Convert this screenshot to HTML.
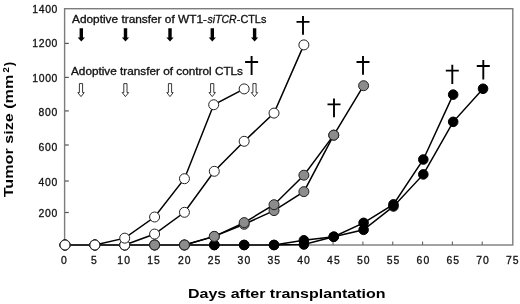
<!DOCTYPE html><html><head><meta charset="utf-8"><style>html,body{margin:0;padding:0;background:#fff;width:520px;height:304px;overflow:hidden}svg{display:block;will-change:transform}text{font-family:"Liberation Sans",sans-serif}.t{stroke:#111;stroke-width:0.3px}</style></head><body>
<svg width="520" height="304" viewBox="0 0 520 304">
<rect x="64.6" y="8.7" width="448.2" height="236.3" fill="none" stroke="#7c7c7c" stroke-width="1.4"/>
<line x1="65" y1="43.4" x2="68.8" y2="43.4" stroke="#555" stroke-width="1.2"/>
<line x1="65" y1="77.4" x2="68.8" y2="77.4" stroke="#555" stroke-width="1.2"/>
<line x1="65" y1="110.9" x2="68.8" y2="110.9" stroke="#555" stroke-width="1.2"/>
<line x1="65" y1="145" x2="68.8" y2="145" stroke="#555" stroke-width="1.2"/>
<line x1="65" y1="181" x2="68.8" y2="181" stroke="#555" stroke-width="1.2"/>
<line x1="65" y1="212.5" x2="68.8" y2="212.5" stroke="#555" stroke-width="1.2"/>
<line x1="94.43" y1="245" x2="94.43" y2="241.6" stroke="#666" stroke-width="1.1"/>
<line x1="124.26" y1="245" x2="124.26" y2="241.6" stroke="#666" stroke-width="1.1"/>
<line x1="154.09" y1="245" x2="154.09" y2="241.6" stroke="#666" stroke-width="1.1"/>
<line x1="183.92" y1="245" x2="183.92" y2="241.6" stroke="#666" stroke-width="1.1"/>
<line x1="213.75" y1="245" x2="213.75" y2="241.6" stroke="#666" stroke-width="1.1"/>
<line x1="243.58" y1="245" x2="243.58" y2="241.6" stroke="#666" stroke-width="1.1"/>
<line x1="273.41" y1="245" x2="273.41" y2="241.6" stroke="#666" stroke-width="1.1"/>
<line x1="303.24" y1="245" x2="303.24" y2="241.6" stroke="#666" stroke-width="1.1"/>
<line x1="333.07" y1="245" x2="333.07" y2="241.6" stroke="#666" stroke-width="1.1"/>
<line x1="362.90" y1="245" x2="362.90" y2="241.6" stroke="#666" stroke-width="1.1"/>
<line x1="392.73" y1="245" x2="392.73" y2="241.6" stroke="#666" stroke-width="1.1"/>
<line x1="422.56" y1="245" x2="422.56" y2="241.6" stroke="#666" stroke-width="1.1"/>
<line x1="452.39" y1="245" x2="452.39" y2="241.6" stroke="#666" stroke-width="1.1"/>
<line x1="482.22" y1="245" x2="482.22" y2="241.6" stroke="#666" stroke-width="1.1"/>
<text x="57.4" y="12.70" font-size="10.4" text-anchor="end" fill="#111" class="t" textLength="25.2" lengthAdjust="spacing">1400</text>
<text x="57.4" y="46.70" font-size="10.4" text-anchor="end" fill="#111" class="t" textLength="25.2" lengthAdjust="spacing">1200</text>
<text x="57.4" y="81.60" font-size="10.4" text-anchor="end" fill="#111" class="t" textLength="25.2" lengthAdjust="spacing">1000</text>
<text x="57.4" y="115.70" font-size="10.4" text-anchor="end" fill="#111" class="t" textLength="18.9" lengthAdjust="spacing">800</text>
<text x="57.4" y="150.50" font-size="10.4" text-anchor="end" fill="#111" class="t" textLength="18.9" lengthAdjust="spacing">600</text>
<text x="57.4" y="185.60" font-size="10.4" text-anchor="end" fill="#111" class="t" textLength="18.9" lengthAdjust="spacing">400</text>
<text x="57.4" y="217.10" font-size="10.4" text-anchor="end" fill="#111" class="t" textLength="18.9" lengthAdjust="spacing">200</text>
<text x="64.00" y="263.8" font-size="10.4" text-anchor="middle" fill="#111" class="t" textLength="6.3" lengthAdjust="spacing">0</text>
<text x="93.83" y="263.8" font-size="10.4" text-anchor="middle" fill="#111" class="t" textLength="6.3" lengthAdjust="spacing">5</text>
<text x="123.66" y="263.8" font-size="10.4" text-anchor="middle" fill="#111" class="t" textLength="12.6" lengthAdjust="spacing">10</text>
<text x="153.49" y="263.8" font-size="10.4" text-anchor="middle" fill="#111" class="t" textLength="12.6" lengthAdjust="spacing">15</text>
<text x="184.22" y="263.8" font-size="10.4" text-anchor="middle" fill="#111" class="t" textLength="12.6" lengthAdjust="spacing">20</text>
<text x="214.05" y="263.8" font-size="10.4" text-anchor="middle" fill="#111" class="t" textLength="12.6" lengthAdjust="spacing">25</text>
<text x="243.88" y="263.8" font-size="10.4" text-anchor="middle" fill="#111" class="t" textLength="12.6" lengthAdjust="spacing">30</text>
<text x="273.71" y="263.8" font-size="10.4" text-anchor="middle" fill="#111" class="t" textLength="12.6" lengthAdjust="spacing">35</text>
<text x="303.54" y="263.8" font-size="10.4" text-anchor="middle" fill="#111" class="t" textLength="12.6" lengthAdjust="spacing">40</text>
<text x="333.37" y="263.8" font-size="10.4" text-anchor="middle" fill="#111" class="t" textLength="12.6" lengthAdjust="spacing">45</text>
<text x="363.20" y="263.8" font-size="10.4" text-anchor="middle" fill="#111" class="t" textLength="12.6" lengthAdjust="spacing">50</text>
<text x="393.03" y="263.8" font-size="10.4" text-anchor="middle" fill="#111" class="t" textLength="12.6" lengthAdjust="spacing">55</text>
<text x="422.86" y="263.8" font-size="10.4" text-anchor="middle" fill="#111" class="t" textLength="12.6" lengthAdjust="spacing">60</text>
<text x="452.69" y="263.8" font-size="10.4" text-anchor="middle" fill="#111" class="t" textLength="12.6" lengthAdjust="spacing">65</text>
<text x="482.52" y="263.8" font-size="10.4" text-anchor="middle" fill="#111" class="t" textLength="12.6" lengthAdjust="spacing">70</text>
<text x="512.35" y="263.8" font-size="10.4" text-anchor="middle" fill="#111" class="t" textLength="12.6" lengthAdjust="spacing">75</text>
<text x="188" y="298.1" font-size="13" font-weight="bold" fill="#000" textLength="197.5" lengthAdjust="spacingAndGlyphs">Days after transplantation</text>
<text transform="translate(12.9,197.3) rotate(-90)" x="0" y="0" font-size="13" font-weight="bold" fill="#000" textLength="122.6" lengthAdjust="spacingAndGlyphs">Tumor size (mm</text>
<text transform="translate(8.8,72.6) rotate(-90)" x="0" y="0" font-size="8.8" font-weight="bold" fill="#000" textLength="5.3" lengthAdjust="spacingAndGlyphs">2</text>
<text transform="translate(12.9,66.3) rotate(-90)" x="0" y="0" font-size="13" font-weight="bold" fill="#000">)</text>
<text x="72" y="22.6" font-size="10.2" fill="#111" class="t" textLength="135" lengthAdjust="spacingAndGlyphs">Adoptive transfer of WT1-</text>
<text x="207.6" y="22.6" font-size="10.2" font-style="italic" fill="#111" class="t" textLength="29" lengthAdjust="spacingAndGlyphs">siTCR</text>
<text x="236.8" y="22.6" font-size="10.2" fill="#111" class="t" textLength="29.5" lengthAdjust="spacingAndGlyphs">-CTLs</text>
<text x="71.0" y="75.4" font-size="10.2" fill="#111" class="t" textLength="172" lengthAdjust="spacingAndGlyphs">Adoptive transfer of control CTLs</text>
<path d="M79.60 28.2H83.00V37.4H84.90L81.30 41.6L77.70 37.4H79.60Z" fill="#000"/>
<path d="M123.80 28.2H127.20V37.4H129.10L125.50 41.6L121.90 37.4H123.80Z" fill="#000"/>
<path d="M168.30 28.2H171.70V37.4H173.60L170.00 41.6L166.40 37.4H168.30Z" fill="#000"/>
<path d="M210.60 28.2H214.00V37.4H215.90L212.30 41.6L208.70 37.4H210.60Z" fill="#000"/>
<path d="M252.90 28.2H256.30V37.4H258.20L254.60 41.6L251.00 37.4H252.90Z" fill="#000"/>
<path d="M79.40 83.6H82.60V92.6H84.20L81.00 96.6L77.80 92.6H79.40Z" fill="#fff" stroke="#222" stroke-width="0.9" stroke-linejoin="miter"/>
<path d="M123.80 83.6H127.00V92.6H128.60L125.40 96.6L122.20 92.6H123.80Z" fill="#fff" stroke="#222" stroke-width="0.9" stroke-linejoin="miter"/>
<path d="M168.40 83.6H171.60V92.6H173.20L170.00 96.6L166.80 92.6H168.40Z" fill="#fff" stroke="#222" stroke-width="0.9" stroke-linejoin="miter"/>
<path d="M210.60 83.6H213.80V92.6H215.40L212.20 96.6L209.00 92.6H210.60Z" fill="#fff" stroke="#222" stroke-width="0.9" stroke-linejoin="miter"/>
<path d="M252.90 83.6H256.10V92.6H257.70L254.50 96.6L251.30 92.6H252.90Z" fill="#fff" stroke="#222" stroke-width="0.9" stroke-linejoin="miter"/>
<path d="M251.60 56.10V74.90M245.10 62.00H258.10" stroke="#000" stroke-width="1.9" fill="none"/>
<path d="M303.00 15.90V34.70M296.50 21.90H309.50" stroke="#000" stroke-width="1.9" fill="none"/>
<path d="M334.00 98.40V117.20M327.50 104.40H340.50" stroke="#000" stroke-width="1.9" fill="none"/>
<path d="M363.00 56.10V74.70M356.50 62.00H369.50" stroke="#000" stroke-width="1.9" fill="none"/>
<path d="M452.30 64.70V83.90M445.80 70.60H458.80" stroke="#000" stroke-width="1.9" fill="none"/>
<path d="M483.30 60.10V79.50M476.80 66.00H489.80" stroke="#000" stroke-width="1.9" fill="none"/>
<line x1="65.00" y1="245" x2="274.02" y2="245" stroke="#000" stroke-width="1.6"/>
<polyline points="274.02,245 303.88,240.3 333.74,236.75 363.60,222.85 393.46,204.4 423.32,159.5 453.18,94.65" fill="none" stroke="#000" stroke-width="1.5"/>
<circle cx="65.00" cy="245" r="4.8" fill="#000" stroke="#000" stroke-width="1"/>
<circle cx="94.86" cy="245" r="4.8" fill="#000" stroke="#000" stroke-width="1"/>
<circle cx="124.72" cy="245" r="4.8" fill="#000" stroke="#000" stroke-width="1"/>
<circle cx="154.58" cy="245" r="4.8" fill="#000" stroke="#000" stroke-width="1"/>
<circle cx="184.44" cy="245" r="4.8" fill="#000" stroke="#000" stroke-width="1"/>
<circle cx="214.30" cy="245" r="4.8" fill="#000" stroke="#000" stroke-width="1"/>
<circle cx="244.16" cy="245" r="4.8" fill="#000" stroke="#000" stroke-width="1"/>
<circle cx="274.02" cy="245" r="4.8" fill="#000" stroke="#000" stroke-width="1"/>
<circle cx="303.88" cy="240.3" r="4.8" fill="#000" stroke="#000" stroke-width="1"/>
<circle cx="333.74" cy="236.75" r="4.8" fill="#000" stroke="#000" stroke-width="1"/>
<circle cx="363.60" cy="222.85" r="4.8" fill="#000" stroke="#000" stroke-width="1"/>
<circle cx="393.46" cy="204.4" r="4.8" fill="#000" stroke="#000" stroke-width="1"/>
<circle cx="423.32" cy="159.5" r="4.8" fill="#000" stroke="#000" stroke-width="1"/>
<circle cx="453.18" cy="94.65" r="4.8" fill="#000" stroke="#000" stroke-width="1"/>
<polyline points="274.02,245 303.88,244.5 333.74,236.75 363.60,229.8 393.46,206.45 423.32,174.4 453.18,121.85 483.04,88.75" fill="none" stroke="#000" stroke-width="1.5"/>
<circle cx="65.00" cy="245" r="4.8" fill="#000" stroke="#000" stroke-width="1"/>
<circle cx="94.86" cy="245" r="4.8" fill="#000" stroke="#000" stroke-width="1"/>
<circle cx="124.72" cy="245" r="4.8" fill="#000" stroke="#000" stroke-width="1"/>
<circle cx="154.58" cy="245" r="4.8" fill="#000" stroke="#000" stroke-width="1"/>
<circle cx="184.44" cy="245" r="4.8" fill="#000" stroke="#000" stroke-width="1"/>
<circle cx="214.30" cy="245" r="4.8" fill="#000" stroke="#000" stroke-width="1"/>
<circle cx="244.16" cy="245" r="4.8" fill="#000" stroke="#000" stroke-width="1"/>
<circle cx="274.02" cy="245" r="4.8" fill="#000" stroke="#000" stroke-width="1"/>
<circle cx="303.88" cy="244.5" r="4.8" fill="#000" stroke="#000" stroke-width="1"/>
<circle cx="333.74" cy="236.75" r="4.8" fill="#000" stroke="#000" stroke-width="1"/>
<circle cx="363.60" cy="229.8" r="4.8" fill="#000" stroke="#000" stroke-width="1"/>
<circle cx="393.46" cy="206.45" r="4.8" fill="#000" stroke="#000" stroke-width="1"/>
<circle cx="423.32" cy="174.4" r="4.8" fill="#000" stroke="#000" stroke-width="1"/>
<circle cx="453.18" cy="121.85" r="4.8" fill="#000" stroke="#000" stroke-width="1"/>
<circle cx="483.04" cy="88.75" r="4.8" fill="#000" stroke="#000" stroke-width="1"/>
<polyline points="184.44,245 214.30,236.4 244.16,224.3 274.02,210.6 303.88,191.65 333.74,135.15 363.60,85.7" fill="none" stroke="#000" stroke-width="1.5"/>
<circle cx="65.00" cy="245" r="5.0" fill="#8c8c8c" stroke="#222" stroke-width="1"/>
<circle cx="94.86" cy="245" r="5.0" fill="#8c8c8c" stroke="#222" stroke-width="1"/>
<circle cx="124.72" cy="245" r="5.0" fill="#8c8c8c" stroke="#222" stroke-width="1"/>
<circle cx="154.58" cy="245" r="5.0" fill="#8c8c8c" stroke="#222" stroke-width="1"/>
<circle cx="184.44" cy="245" r="5.0" fill="#8c8c8c" stroke="#222" stroke-width="1"/>
<circle cx="214.30" cy="236.4" r="5.0" fill="#8c8c8c" stroke="#222" stroke-width="1"/>
<circle cx="244.16" cy="224.3" r="5.0" fill="#8c8c8c" stroke="#222" stroke-width="1"/>
<circle cx="274.02" cy="210.6" r="5.0" fill="#8c8c8c" stroke="#222" stroke-width="1"/>
<circle cx="303.88" cy="191.65" r="5.0" fill="#8c8c8c" stroke="#222" stroke-width="1"/>
<circle cx="333.74" cy="135.15" r="5.0" fill="#8c8c8c" stroke="#222" stroke-width="1"/>
<circle cx="363.60" cy="85.7" r="5.0" fill="#8c8c8c" stroke="#222" stroke-width="1"/>
<polyline points="184.44,245 214.30,236.4 244.16,222.6 274.02,204.7 303.88,175.2 333.74,135.15" fill="none" stroke="#000" stroke-width="1.5"/>
<circle cx="65.00" cy="245" r="5.0" fill="#8c8c8c" stroke="#222" stroke-width="1"/>
<circle cx="94.86" cy="245" r="5.0" fill="#8c8c8c" stroke="#222" stroke-width="1"/>
<circle cx="124.72" cy="245" r="5.0" fill="#8c8c8c" stroke="#222" stroke-width="1"/>
<circle cx="154.58" cy="245" r="5.0" fill="#8c8c8c" stroke="#222" stroke-width="1"/>
<circle cx="184.44" cy="245" r="5.0" fill="#8c8c8c" stroke="#222" stroke-width="1"/>
<circle cx="214.30" cy="236.4" r="5.0" fill="#8c8c8c" stroke="#222" stroke-width="1"/>
<circle cx="244.16" cy="222.6" r="5.0" fill="#8c8c8c" stroke="#222" stroke-width="1"/>
<circle cx="274.02" cy="204.7" r="5.0" fill="#8c8c8c" stroke="#222" stroke-width="1"/>
<circle cx="303.88" cy="175.2" r="5.0" fill="#8c8c8c" stroke="#222" stroke-width="1"/>
<circle cx="333.74" cy="135.15" r="5.0" fill="#8c8c8c" stroke="#222" stroke-width="1"/>
<polyline points="124.72,245 154.58,234.05 184.44,212.3 214.30,171.3 244.16,141.3 274.02,113.1 303.88,44.9" fill="none" stroke="#000" stroke-width="1.5"/>
<circle cx="65.00" cy="245" r="5.0" fill="#fff" stroke="#222" stroke-width="1"/>
<circle cx="94.86" cy="245" r="5.0" fill="#fff" stroke="#222" stroke-width="1"/>
<circle cx="124.72" cy="245" r="5.0" fill="#fff" stroke="#222" stroke-width="1"/>
<circle cx="154.58" cy="234.05" r="5.0" fill="#fff" stroke="#222" stroke-width="1"/>
<circle cx="184.44" cy="212.3" r="5.0" fill="#fff" stroke="#222" stroke-width="1"/>
<circle cx="214.30" cy="171.3" r="5.0" fill="#fff" stroke="#222" stroke-width="1"/>
<circle cx="244.16" cy="141.3" r="5.0" fill="#fff" stroke="#222" stroke-width="1"/>
<circle cx="274.02" cy="113.1" r="5.0" fill="#fff" stroke="#222" stroke-width="1"/>
<circle cx="303.88" cy="44.9" r="5.0" fill="#fff" stroke="#222" stroke-width="1"/>
<polyline points="94.86,245 124.72,238.15 154.58,217.0 184.44,178.7 213.70,104.75 244.16,88.9" fill="none" stroke="#000" stroke-width="1.5"/>
<circle cx="65.00" cy="245" r="5.0" fill="#fff" stroke="#222" stroke-width="1"/>
<circle cx="94.86" cy="245" r="5.0" fill="#fff" stroke="#222" stroke-width="1"/>
<circle cx="124.72" cy="238.15" r="5.0" fill="#fff" stroke="#222" stroke-width="1"/>
<circle cx="154.58" cy="217.0" r="5.0" fill="#fff" stroke="#222" stroke-width="1"/>
<circle cx="184.44" cy="178.7" r="5.0" fill="#fff" stroke="#222" stroke-width="1"/>
<circle cx="213.70" cy="104.75" r="5.0" fill="#fff" stroke="#222" stroke-width="1"/>
<circle cx="244.16" cy="88.9" r="5.0" fill="#fff" stroke="#222" stroke-width="1"/>
</svg></body></html>
